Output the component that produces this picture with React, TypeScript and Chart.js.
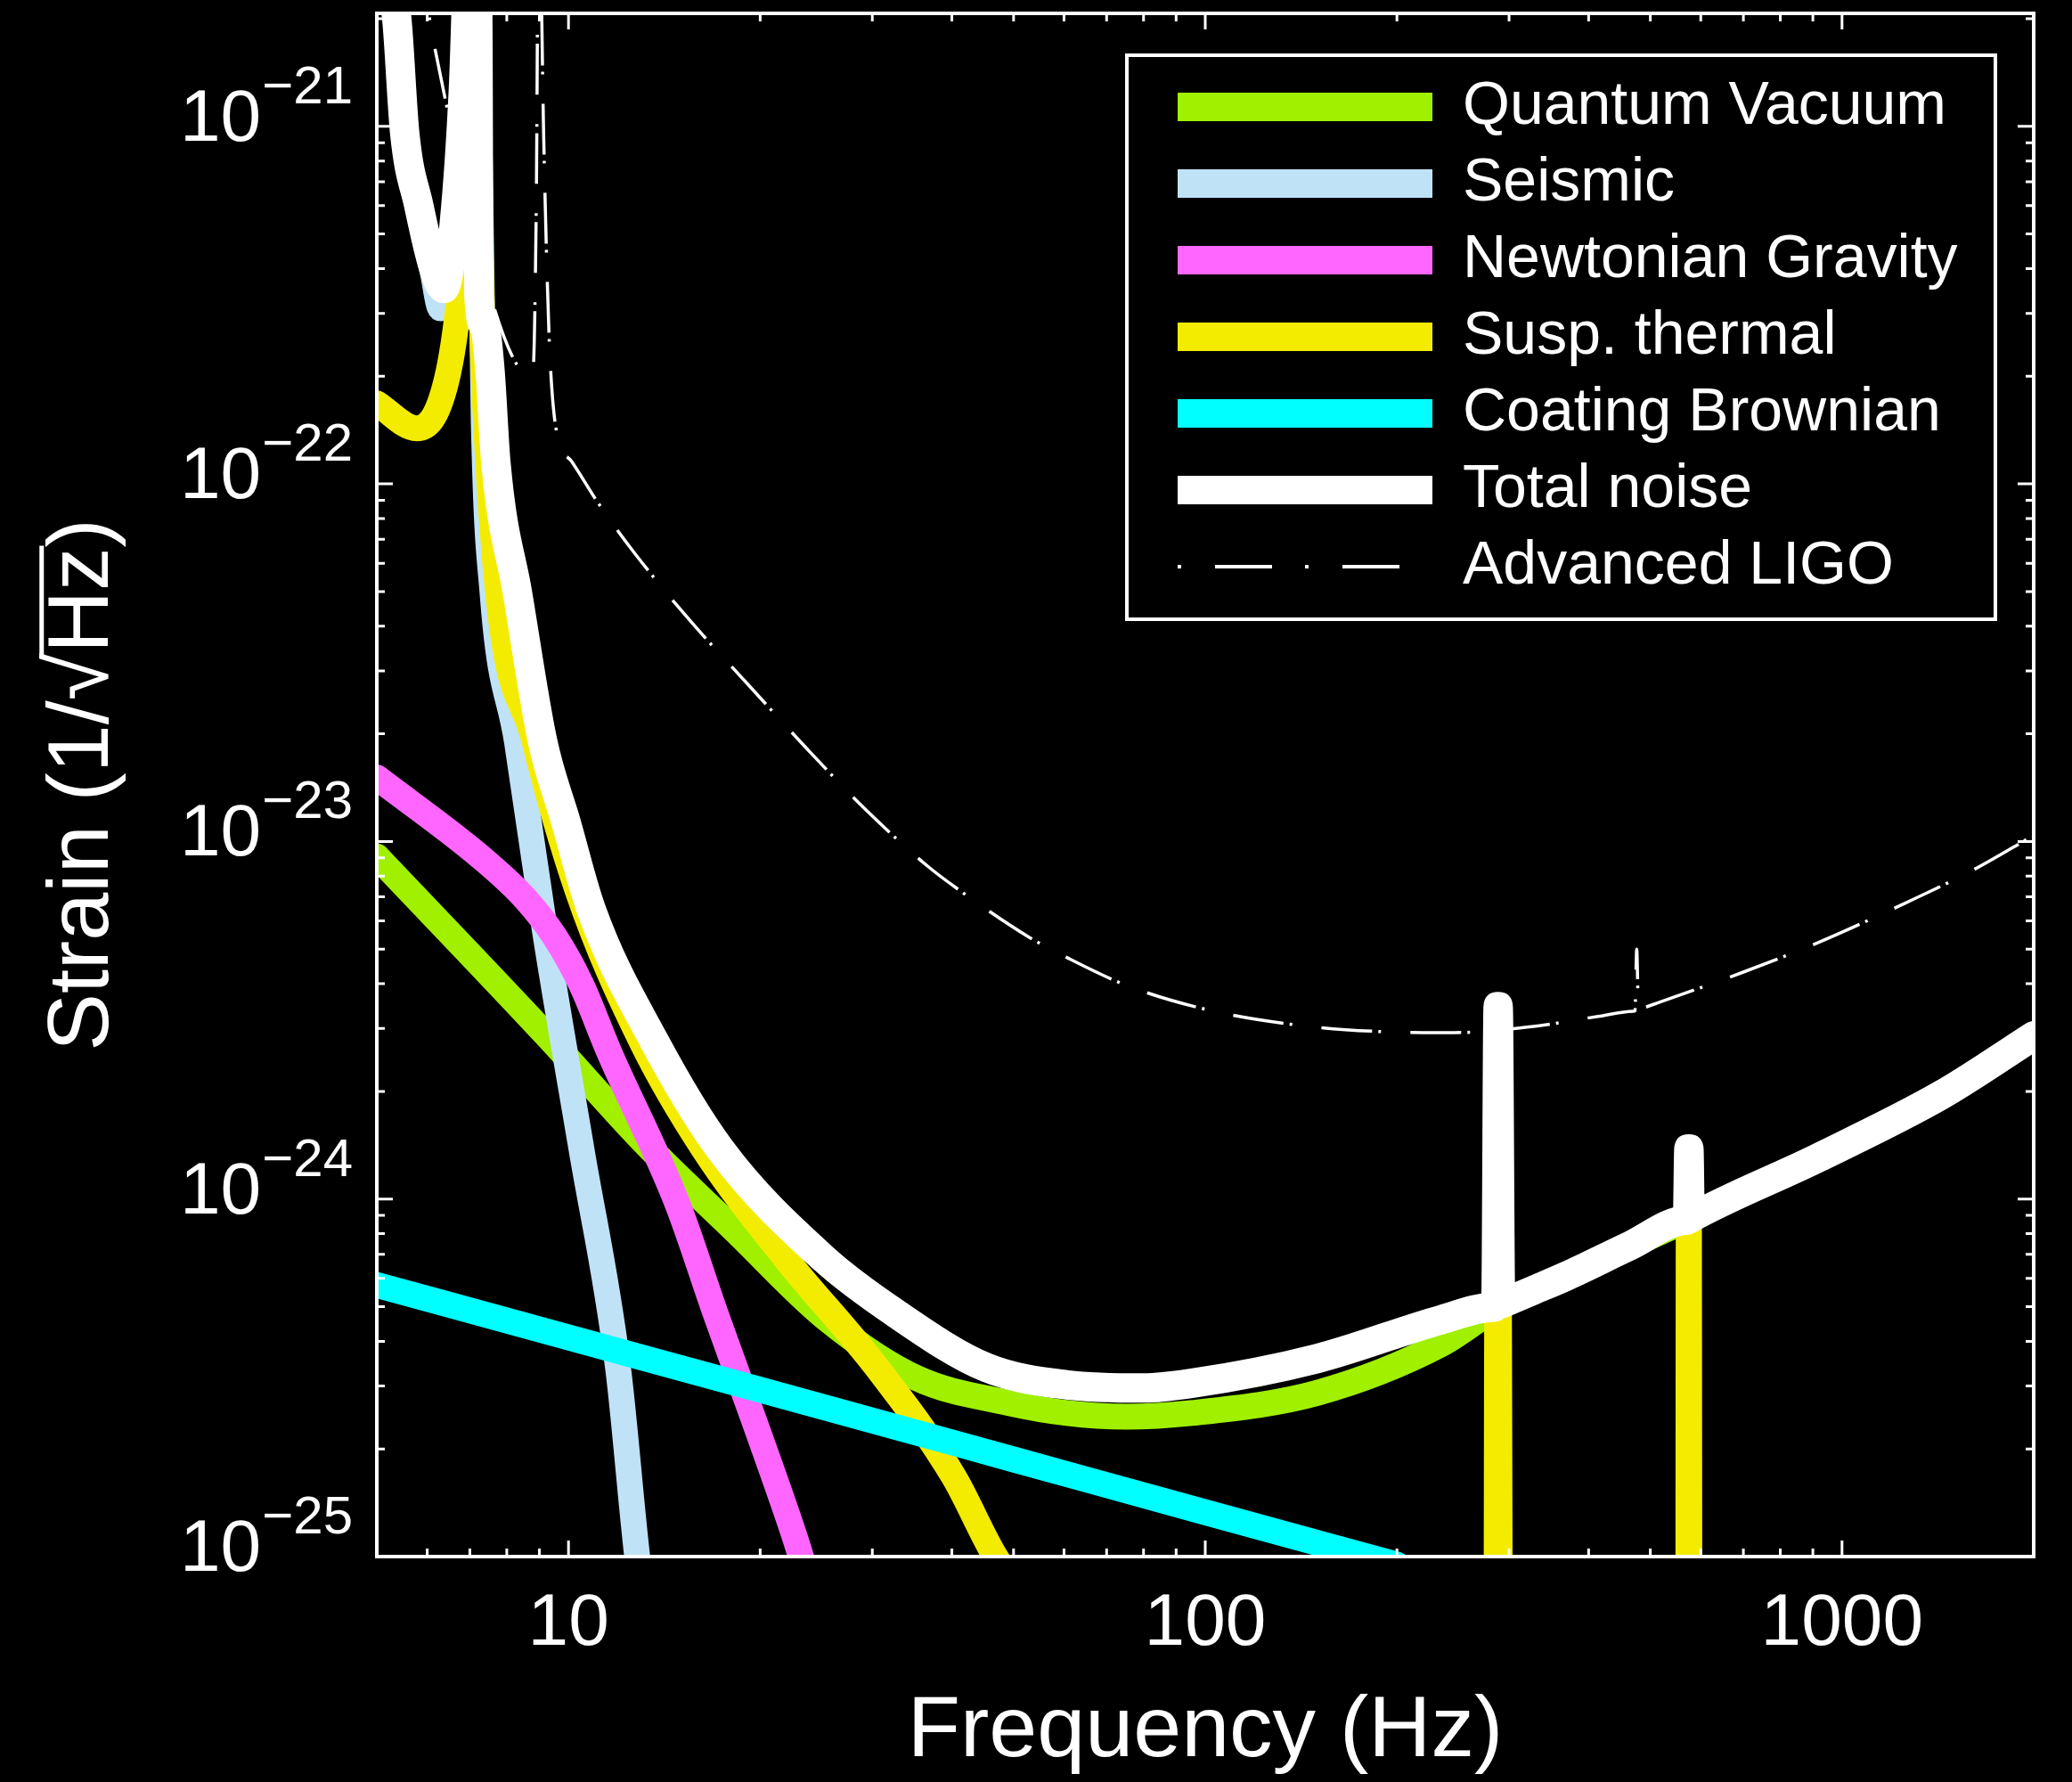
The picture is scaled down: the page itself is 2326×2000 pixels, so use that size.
import React, { useEffect, useRef } from "react";
import { Chart, registerables } from "chart.js";

Chart.register(...registerables);

const FONT = '"Liberation Sans", Arial, Helvetica, sans-serif';

// ---------------- data (Hz, strain 1/sqrt(Hz)) ----------------
const qvFreq = [5, 9.2, 13.2, 18.3, 25.4, 35.3, 49.1, 60.7, 75, 95, 150, 235, 294, 327, 370, 463, 569, 581, 914, 1436, 2000];
const qvStrain = [9.08e-24, 2.89e-24, 1.43e-24, 8.13e-25, 4.63e-25, 3.15e-25, 2.69e-25, 2.52e-25, 2.46e-25, 2.52e-25, 2.87e-25, 3.93e-25, 5.1e-25, 5.55e-25, 6.1e-25, 7.38e-25, 8.72e-25, 8.88e-25, 1.3e-24, 1.96e-24, 2.86e-24];

const seFreq = [5, 5.37, 5.53, 5.82, 6.13, 6.3, 6.45, 6.62, 6.84, 7.13, 7.2, 7.36, 7.6, 8.3, 9.2, 10.48, 11.96, 12.82, 13.5];
const seStrain = [3.2e-21, 2.03e-21, 9.6e-22, 6.0e-22, 3.85e-22, 3.1e-22, 3.45e-22, 5.3e-22, 1.26e-21, 1.0e-20, 2.0e-21, 1.5e-22, 4.93e-23, 1.9e-23, 5.5e-24, 1.38e-24, 3.38e-25, 1.0e-25, 5.0e-26];

const ngFreq = [5, 7.25, 8.5, 9.5, 10.48, 11.56, 14.82, 17.0, 19.6, 22.5, 24];
const ngStrain = [1.51e-23, 9.1e-24, 7.0e-24, 5.44e-24, 3.97e-24, 2.6e-24, 9.72e-25, 4.81e-25, 2.38e-25, 1.18e-25, 8.2e-26];

const stFreq = [5, 5.78, 6.43, 6.74, 6.95, 7.13, 7.21, 7.39, 8.85, 10.33, 12.98, 16.3, 21.9, 30.5, 40.3, 46.8, 60, 150, 285, 288.4, 292, 572, 574.8, 578, 2000];
const stStrain = [1.68e-22, 1.43e-22, 1.94e-22, 3.36e-22, 7.0e-22, 8.0e-21, 1.2e-21, 1.71e-22, 1.9e-23, 7.3e-24, 2.79e-24, 1.38e-24, 6.84e-25, 3.38e-25, 1.67e-25, 1.0e-25, 5.5e-26, 5.0e-27, 1.1e-27, 3.45e-24, 1.0e-27, 1.9e-28, 1.38e-24, 1.8e-28, 1.0e-29];

const cbFreq = [5, 10, 20, 50, 100, 200];
const cbStrain = [5.75e-25, 4.1e-25, 2.93e-25, 1.87e-25, 1.33e-25, 9.5e-26];

const tnFreq = [5, 5.37, 5.53, 5.82, 6.13, 6.37, 6.62, 6.84, 7.13, 7.21, 7.23, 7.38, 7.53, 7.69, 8.32, 9.11, 9.9, 10.84, 13.6, 17.3, 25.1, 32.6, 45.3, 60.7, 80, 95, 150, 235, 283, 286, 288.4, 291, 294, 327, 370, 463, 569, 572, 574.8, 577.5, 581, 914, 1436, 2000];
const tnStrain = [3.2e-21, 2.03e-21, 9.6e-22, 6.0e-22, 4.06e-22, 3.52e-22, 5.4e-22, 1.28e-21, 1.0e-20, 1.5e-21, 3.4e-22, 2.76e-22, 2.07e-22, 1.15e-22, 4.93e-23, 1.9e-23, 1.14e-23, 6.5e-24, 2.79e-24, 1.38e-24, 6.84e-25, 4.8e-25, 3.38e-25, 3.02e-25, 2.96e-25, 3.05e-25, 3.58e-25, 4.6e-25, 4.98e-25, 5.02e-25, 3.45e-24, 5.08e-25, 5.12e-25, 5.55e-25, 6.1e-25, 7.38e-25, 8.72e-25, 8.76e-25, 1.38e-24, 8.82e-25, 8.88e-25, 1.3e-24, 1.96e-24, 2.86e-24];

const alFreq = [5.85, 6.17, 8.24, 8.79, 8.9, 8.98, 9.14, 9.23, 9.35, 9.59, 10.1, 11.12, 12.65, 15.55, 19.1, 23.8, 29.4, 36.7, 41.0, 52.5, 60.7, 76, 104, 143, 188, 246, 323, 414, 470, 473, 476, 479, 482, 519, 697, 914, 1225, 1606, 2000];
const alStrain = [2.9e-21, 1.65e-21, 2.2e-22, 2.05e-22, 6.0e-22, 5.0e-21, 9.6e-22, 4.57e-22, 2.29e-22, 1.38e-22, 1.16e-22, 8.87e-23, 6.46e-23, 4.13e-23, 2.76e-23, 1.8e-23, 1.22e-23, 8.51e-24, 7.33e-24, 5.44e-24, 4.73e-24, 3.93e-24, 3.34e-24, 3.05e-24, 2.94e-24, 2.92e-24, 3.03e-24, 3.24e-24, 3.35e-24, 3.36e-24, 5.0e-24, 3.39e-24, 3.4e-24, 3.56e-24, 4.3e-24, 5.2e-24, 6.58e-24, 8.32e-24, 1.04e-23];

const seriesLabels = ["Quantum Vacuum", "Seismic", "Newtonian Gravity", "Susp. thermal", "Coating Brownian", "Total noise", "Advanced LIGO"];
const seriesColors = ["#A0F000", "#BFE2F7", "#FF66FF", "#F4EC00", "#00FFFF", "#FFFFFF", "#FFFFFF"];

// ---------------- axis ticks ----------------
const xMajorTicks = [10, 100, 1000];
const xMinorTicks = [5, 6, 7, 8, 9, 20, 30, 40, 50, 60, 70, 80, 90, 200, 300, 400, 500, 600, 700, 800, 900, 2000];
const yMajorTicks = [1e-25, 1e-24, 1e-23, 1e-22, 1e-21];
const yMinorTicks = [
  2e-25, 3e-25, 4e-25, 5e-25, 6e-25, 7e-25, 8e-25, 9e-25,
  2e-24, 3e-24, 4e-24, 5e-24, 6e-24, 7e-24, 8e-24, 9e-24,
  2e-23, 3e-23, 4e-23, 5e-23, 6e-23, 7e-23, 8e-23, 9e-23,
  2e-22, 3e-22, 4e-22, 5e-22, 6e-22, 7e-22, 8e-22, 9e-22,
  2e-21,
];

const X_TITLE = "Frequency (Hz)";
const Y_TITLE = "Strain (1/\u221AHz)";
const TITLE_SIZE = 97;
const Y_TITLE_PAD = 46;

const toPoints = (f: number[], h: number[]) => f.map((x, i) => ({ x, y: h[i] }));
const seriesData = [
  toPoints(qvFreq, qvStrain),
  toPoints(seFreq, seStrain),
  toPoints(ngFreq, ngStrain),
  toPoints(stFreq, stStrain),
  toPoints(cbFreq, cbStrain),
  toPoints(tnFreq, tnStrain),
  toPoints(alFreq, alStrain),
];

// --------- plugins ---------
const legendPlacer = {
  id: "legendPlacer",
  afterLayout(chart: any) {
    const lg = chart.legend;
    if (!lg) return;
    lg.left = 1304;
    lg.top = 68;
    lg.right = 2240;
    lg.bottom = chart.chartArea.bottom;
  },
};

const frameTicks = {
  id: "frameTicks",
  afterDatasetsDraw(chart: any) {
    const { ctx, chartArea: a, scales } = chart;
    const xs = scales.x;
    const ys = scales.y;
    ctx.save();
    ctx.strokeStyle = "#fff";
    ctx.lineCap = "butt";
    ctx.setLineDash([]);
    const drawX = (vals: number[], len: number) => {
      vals.forEach((v) => {
        const p = xs.getPixelForValue(v);
        ctx.moveTo(p, a.bottom);
        ctx.lineTo(p, a.bottom - len);
        ctx.moveTo(p, a.top);
        ctx.lineTo(p, a.top + len);
      });
    };
    const drawY = (vals: number[], len: number) => {
      vals.forEach((v) => {
        const p = ys.getPixelForValue(v);
        ctx.moveTo(a.left, p);
        ctx.lineTo(a.left + len, p);
        ctx.moveTo(a.right, p);
        ctx.lineTo(a.right - len, p);
      });
    };
    ctx.lineWidth = 3;
    ctx.beginPath();
    drawX(xMinorTicks, 9);
    drawX(xMajorTicks, 18);
    drawY(yMinorTicks, 9);
    drawY(yMajorTicks, 18);
    ctx.stroke();
    ctx.lineWidth = 4;
    ctx.strokeRect(a.left, a.top, a.right - a.left, a.bottom - a.top);
    ctx.restore();
  },
};

const decorations = {
  id: "decorations",
  afterDraw(chart: any) {
    const { ctx } = chart;
    const ys = chart.scales.y;
    // y tick labels 10^n with superscript exponent
    ctx.save();
    ctx.fillStyle = "#fff";
    ctx.textBaseline = "alphabetic";
    ctx.textAlign = "right";
    yMajorTicks.forEach((v) => {
      const py = ys.getPixelForValue(v);
      const sup = "\u2212" + String(Math.abs(Math.round(Math.log10(v))));
      ctx.font = `60px ${FONT}`;
      const sw = ctx.measureText(sup).width;
      ctx.fillText(sup, 396, py - 26);
      ctx.font = `82px ${FONT}`;
      ctx.fillText("10", 396 - sw - 1, py + 16);
    });
    ctx.restore();

    // legend frame
    ctx.save();
    ctx.strokeStyle = "#fff";
    ctx.lineWidth = 4;
    ctx.strokeRect(1265, 62, 975, 633);
    ctx.restore();

    // overbar of the square root in the y title
    ctx.save();
    ctx.font = `${TITLE_SIZE}px ${FONT}`;
    ctx.textBaseline = "middle";
    const W = ctx.measureText(Y_TITLE).width;
    const w1 = ctx.measureText("Strain (1/\u221A").width;
    const w2 = ctx.measureText("Strain (1/\u221AHz").width;
    const asc = ctx.measureText("\u221A").actualBoundingBoxAscent;
    const cx = ys.left + TITLE_SIZE / 2 + Y_TITLE_PAD;
    const cy = (ys.top + ys.bottom) / 2;
    ctx.translate(cx, cy);
    ctx.rotate(-Math.PI / 2);
    ctx.strokeStyle = "#fff";
    ctx.lineWidth = 5;
    ctx.beginPath();
    ctx.moveTo(-W / 2 + w1 - 6, -asc + 2.5);
    ctx.lineTo(-W / 2 + w2 + 2, -asc + 2.5);
    ctx.stroke();
    ctx.restore();
  },
};

export default function App() {
  const ref = useRef<HTMLCanvasElement>(null);

  useEffect(() => {
    document.body.style.margin = "0";
    document.body.style.background = "#000";
    Chart.defaults.font.family = FONT;
    Chart.defaults.color = "#fff";

    const datasets: any[] = seriesLabels.map((label, i) => ({
      label,
      data: seriesData[i],
      borderColor: seriesColors[i],
      backgroundColor: seriesColors[i],
      borderWidth: i === 6 ? 3.5 : i === 5 ? 33 : 29,
      borderDash: i === 6 ? [57, 7, 3, 33] : [],
      borderCapStyle: i === 6 ? "butt" : "round",
      borderJoinStyle: "round",
      pointRadius: 0,
      pointHoverRadius: 0,
      fill: false,
      cubicInterpolationMode: "monotone",
      clip: 0,
      order: seriesLabels.length - i,
    }));

    const chart = new Chart(ref.current as HTMLCanvasElement, {
      type: "line",
      data: { datasets },
      options: {
        responsive: false,
        animation: false,
        devicePixelRatio: 1,
        events: [],
        layout: { padding: { top: 15, right: 43, bottom: 0, left: 0 } },
        scales: {
          x: {
            type: "logarithmic",
            position: "bottom",
            min: 5,
            max: 2000,
            grid: { display: false, drawTicks: false },
            border: { display: false },
            afterBuildTicks: (s: any) => {
              s.ticks = xMajorTicks.map((v) => ({ value: v, major: true }));
            },
            afterFit: (s: any) => {
              s.height = 253;
            },
            ticks: {
              color: "#fff",
              font: { family: FONT, size: 82, lineHeight: 1 },
              padding: 35,
              autoSkip: false,
              maxRotation: 0,
              callback: (v: any) => String(v),
            },
            title: {
              display: true,
              text: X_TITLE,
              color: "#fff",
              font: { family: FONT, size: TITLE_SIZE, lineHeight: 1 },
              padding: { top: 0, bottom: 7 },
            },
          },
          y: {
            type: "logarithmic",
            position: "left",
            min: 1e-25,
            max: 2.07e-21,
            grid: { display: false, drawTicks: false },
            border: { display: false },
            ticks: { display: false },
            afterFit: (s: any) => {
              s.width = 423;
            },
            title: {
              display: true,
              text: Y_TITLE,
              color: "#fff",
              font: { family: FONT, size: TITLE_SIZE, lineHeight: 1 },
              padding: { top: Y_TITLE_PAD, bottom: 0 },
            },
          },
        },
        plugins: {
          tooltip: { enabled: false },
          legend: {
            display: true,
            position: "chartArea",
            align: "start",
            labels: {
              color: "#fff",
              font: { family: FONT, size: 68 },
              usePointStyle: true,
              pointStyle: "line",
              pointStyleWidth: 286,
              padding: 18,
              generateLabels: (c: any) =>
                c.data.datasets.map((ds: any, i: number) => ({
                  text: ds.label,
                  fillStyle: ds.borderColor,
                  strokeStyle: ds.borderColor,
                  fontColor: "#fff",
                  lineWidth: i === 6 ? 4 : 32,
                  lineDash: i === 6 ? [4, 38, 64, 37] : [],
                  lineDashOffset: 0,
                  lineCap: "butt",
                  pointStyle: "line",
                  rotation: 0,
                  hidden: false,
                  datasetIndex: i,
                })),
            },
          },
        },
      } as any,
      plugins: [legendPlacer, frameTicks, decorations],
    });

    return () => chart.destroy();
  }, []);

  return (
    <div style={{ position: "absolute", left: 0, top: 0, width: 2326, height: 2000, background: "#000" }}>
      <canvas ref={ref} width={2326} height={2000} style={{ display: "block", width: 2326, height: 2000 }} />
    </div>
  );
}
